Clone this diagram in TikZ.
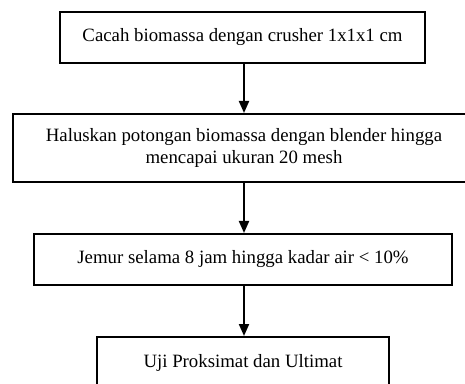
\documentclass[tikz,border=0pt]{standalone}
\usepackage{fontspec}
\setmainfont{Liberation Serif}
\usetikzlibrary{arrows.meta}
\tikzset{
  stepbox/.style={draw, line width=1pt, align=center, inner sep=0pt,
    font=\fontsize{9.4}{11}\selectfont},
  flow/.style={line width=1pt, -{Triangle[length=6pt,width=5pt]}}
}
\begin{document}
\begin{tikzpicture}[x=0.5pt,y=-0.5pt]
\clip (0,0) rectangle (465,384);
\fill[white] (0,0) rectangle (465,384);

\node[stepbox, minimum width=182.5pt, minimum height=25.5pt] (cacah) at (242.5,37.5) {Cacah biomassa dengan crusher 1x1x1 cm};
\node[stepbox, minimum width=231pt, minimum height=34pt] (halus) at (244,148) {Haluskan potongan biomassa dengan blender hingga\\mencapai ukuran 20 mesh};
\node[stepbox, minimum width=209pt, minimum height=25.5pt] (jemur) at (243,259.5) {Jemur selama 8 jam hingga kadar air < 10\%};
\node[stepbox, minimum width=146pt, minimum height=25.5pt] (uji) at (243,362.5) {Uji Proksimat dan Ultimat};

\draw[flow] (cacah.south -| 244,0) -- (halus.north -| 244,0);
\draw[flow] (halus.south -| 244,0) -- (jemur.north -| 244,0);
\draw[flow] (jemur.south -| 244,0) -- (uji.north -| 244,0);
\end{tikzpicture}
\end{document}
